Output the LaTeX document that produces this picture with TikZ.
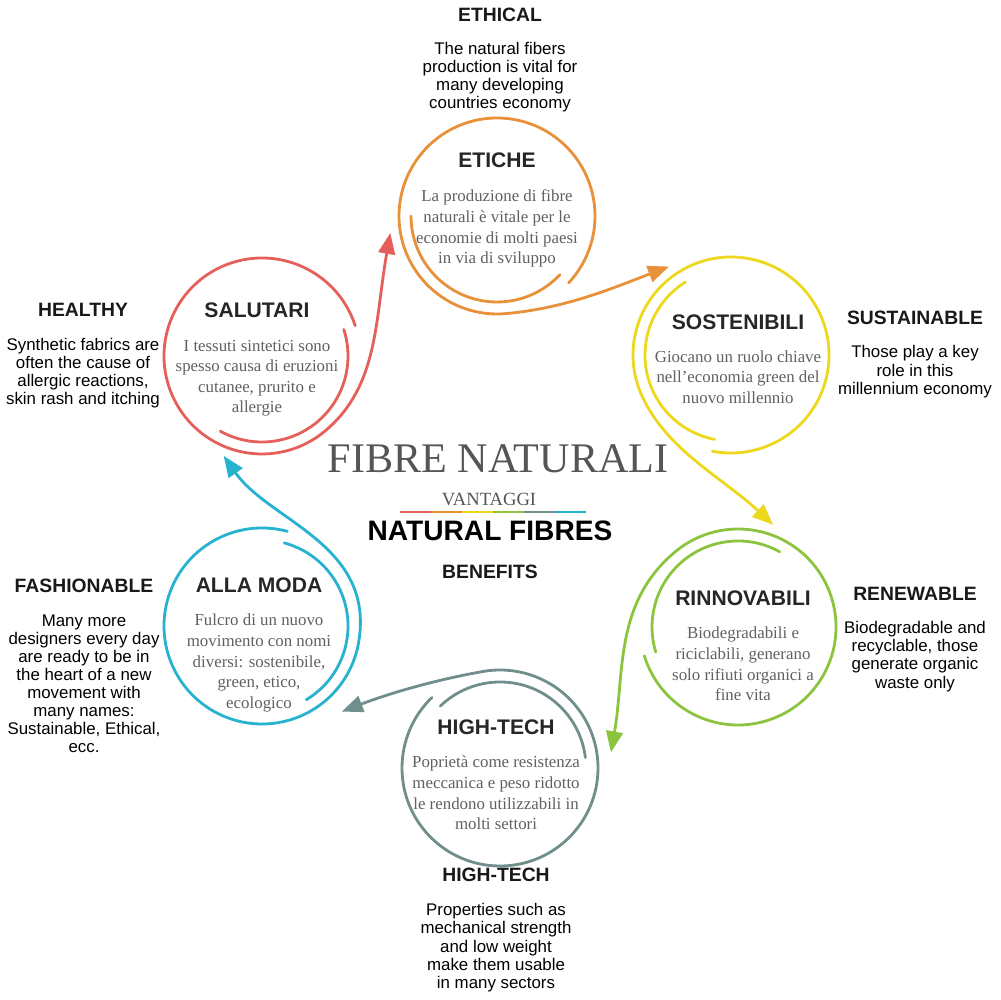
\documentclass[tikz,border=0pt]{standalone}
\usepackage{fontspec}
\setmainfont{Liberation Serif}
\setsansfont{Liberation Sans}
\usetikzlibrary{positioning,arrows.meta}
\definecolor{salcol}{HTML}{E5605A}
\definecolor{eticol}{HTML}{E8903A}
\definecolor{soscol}{HTML}{EDD81E}
\definecolor{rincol}{HTML}{8DC43F}
\definecolor{htcol}{HTML}{6F8E8C}
\definecolor{amcol}{HTML}{27B3CF}
\definecolor{itgray}{HTML}{606060}
\definecolor{titgray}{HTML}{555555}
\begin{document}
\begin{tikzpicture}
[x=0.02cm, y=0.02cm, line cap=round]
\tikzstyle{ring}=[line width=1.6pt]
\tikzstyle{link}=[ring, -{Triangle[length=12pt, width=9.5pt]}]
\tikzstyle{head}=[font=\sffamily\bfseries\fontsize{12}{14}\selectfont, text=black!85, inner sep=0pt]
\tikzstyle{eng}=[font=\sffamily\bfseries\fontsize{11}{13}\selectfont, text=black!90, inner sep=0pt]
\tikzstyle{engtext}=[font=\sffamily\fontsize{9.6}{10.3}\selectfont, align=center, inner sep=0pt]
\tikzstyle{ittext}=[font=\rmfamily\fontsize{9.6}{11.7}\selectfont, text=itgray, align=center, inner sep=0pt]

\useasboundingbox (0,0) rectangle (1000,1000);

\coordinate (eti) at (497,784);
\coordinate (sos) at (731,645);
\coordinate (rin) at (738,373);
\coordinate (ht)  at (500,232);
\coordinate (am)  at (262,374);
\coordinate (sal) at (262,644);

\draw[ring, eticol] ([shift={(180:86)}]eti) arc[start angle=180, end angle=317, radius=86];
\draw[link, eticol] ([shift={(317:98)}]eti) arc[start angle=317, end angle=635, radius=98]
  .. controls +(5:60) and +(201:60) .. ([shift={(125:108)}]sos);

\draw[ring, soscol] ([shift={(122:86)}]sos) arc[start angle=122, end angle=259, radius=86];
\draw[link, soscol] ([shift={(259:98)}]sos) arc[start angle=259, end angle=565, radius=98]
  .. controls +(295:60) and +(137:70) .. ([shift={(71:108)}]rin);

\draw[ring, rincol] ([shift={(61:86)}]rin) arc[start angle=61, end angle=197, radius=86];
\draw[link, rincol] ([shift={(197:98)}]rin) arc[start angle=197, end angle=490, radius=98]
  .. controls +(220:80) and +(80:80) .. ([shift={(8:112)}]ht);

\draw[ring, htcol] ([shift={(7:86)}]ht) arc[start angle=7, end angle=134, radius=86];
\draw[link, htcol] ([shift={(134:98)}]ht) arc[start angle=134, end angle=460, radius=98]
  .. controls +(190:50) and +(21:50) .. ([shift={(-47:117)}]am);

\draw[ring, amcol] ([shift={(-59:86)}]am) arc[start angle=-59, end angle=75, radius=86];
\draw[link, amcol] ([shift={(75:98)}]am) arc[start angle=75, end angle=350, radius=98]
  .. controls +(80:100) and +(305:80) .. ([shift={(249:107)}]sal);

\draw[ring, salcol] ([shift={(241:86)}]sal) arc[start angle=241, end angle=378, radius=86];
\draw[link, salcol] ([shift={(18:98)}]sal) arc[start angle=18, end angle=310, radius=98]
  .. controls +(40:70) and +(260:90) .. ([shift={(189:108)}]eti);

\node[head] (eti-t) at (497,840) {ETICHE};
\node[ittext, below=12.5pt of eti-t] (eti-d) {La produzione di fibre\\naturali è vitale per le\\economie di molti paesi\\in via di sviluppo};
\node[head] (sos-t) at (738,678) {SOSTENIBILI};
\node[ittext, below=11.5pt of sos-t] (sos-d) {Giocano un ruolo chiave\\nell'economia green del\\nuovo millennio};
\node[head] (rin-t) at (743,402) {RINNOVABILI};
\node[ittext, below=12pt of rin-t] (rin-d) {Biodegradabili e\\riciclabili, generano\\solo rifiuti organici a\\fine vita};
\node[head] (ht-t) at (496,273) {HIGH-TECH};
\node[ittext, below=12pt of ht-t] (ht-d) {Poprietà come resistenza\\meccanica e peso ridotto\\le rendono utilizzabili in\\molti settori};
\node[head] (am-t) at (259,415) {ALLA MODA};
\node[ittext, below=12pt of am-t] (am-d) {Fulcro di un nuovo\\movimento con nomi\\diversi: sostenibile,\\green, etico,\\ecologico};
\node[head] (sal-t) at (257,690) {SALUTARI};
\node[ittext, below=12.5pt of sal-t] (sal-d) {I tessuti sintetici sono\\spesso causa di eruzioni\\cutanee, prurito e\\allergie};

\node[eng] (ethical) at (500,985) {ETHICAL};
\node[engtext, below=11pt of ethical] (ethical-d) {The natural fibers\\production is vital for\\many developing\\countries economy};
\node[eng] (sustain) at (915,682) {SUSTAINABLE};
\node[engtext, below=11.5pt of sustain] (sustain-d) {Those play a key\\role in this\\millennium economy};
\node[eng] (renew) at (915,406) {RENEWABLE};
\node[engtext, below=11.5pt of renew] (renew-d) {Biodegradable and\\recyclable, those\\generate organic\\waste only};
\node[eng] (hightech) at (496,125) {HIGH-TECH};
\node[engtext, below=12pt of hightech] (hightech-d) {Properties such as\\mechanical strength\\and low weight\\make them usable\\in many sectors};
\node[eng] (fashion) at (84,414) {FASHIONABLE};
\node[engtext, below=12pt of fashion] (fashion-d) {Many more\\designers every day\\are ready to be in\\the heart of a new\\movement with\\many names:\\Sustainable, Ethical,\\ecc.};
\node[eng] (healthy) at (83,690) {HEALTHY};
\node[engtext, below=12pt of healthy] (healthy-d) {Synthetic fabrics are\\often the cause of\\allergic reactions,\\skin rash and itching};

\node[font=\rmfamily\fontsize{24}{26}\selectfont, text=titgray] (fibre) at (498,541) {FIBRE NATURALI};
\node[font=\rmfamily\fontsize{10.6}{12}\selectfont, text=titgray] (vantaggi) at (489,501) {VANTAGGI};
\foreach \c [count=\i from 0] in {salcol,eticol,soscol,rincol,htcol,amcol}
  \draw[line width=1.2pt, line cap=butt, \c] (400+31*\i,488) -- (431+31*\i,488);
\node[font=\sffamily\bfseries\fontsize{16}{18}\selectfont] (natfib) at (490,469) {NATURAL FIBRES};
\node[eng] (benefits) at (490,428) {BENEFITS};
\end{tikzpicture}
\end{document}
